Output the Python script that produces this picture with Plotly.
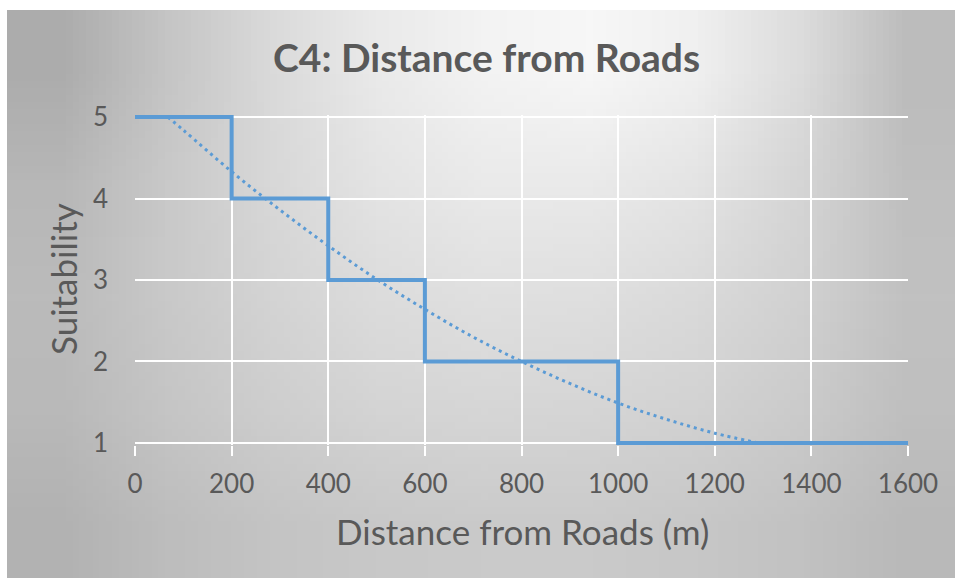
import base64
import struct
import zlib

import plotly.graph_objects as go

# ---------------- data ----------------
breakpoints_m = [0, 200, 400, 600, 1000, 1600]
suitability = [5, 4, 3, 2, 1, 1]

trend_x = [68, 100, 200, 300, 400, 500, 600, 700, 800, 900, 1000, 1100, 1200, 1290]
trend_y = [5.0, 4.84, 4.33, 3.86, 3.42, 3.01, 2.64, 2.30, 2.00, 1.73, 1.49, 1.29, 1.12, 1.0]

x_ticks = [0, 200, 400, 600, 800, 1000, 1200, 1400, 1600]
y_ticks = [1, 2, 3, 4, 5]

title_text = "C4: Distance from Roads"
x_title = "Distance from Roads (m)"
y_title = "Suitability"

# background shading samples (grey levels, rows top -> bottom)
bg_grey = [
    [172, 197, 218, 234, 243, 247, 240, 220, 188],
    [183, 201, 216, 228, 234, 234, 228, 213, 191],
    [187, 201, 212, 220, 224, 223, 218, 209, 193],
    [185, 197, 206, 212, 214, 213, 210, 203, 191],
    [178, 189, 196, 200, 202, 202, 199, 194, 185],
]

# ---------------- layout geometry ----------------
W, H = 955, 578
L, R, T, B = 135, 47, 115, 133
PW = W - L - R
PH = H - T - B


def px(x):
    return (x - L) / PW


def py(y):
    return (H - B - y) / PH


def png_gray(rows):
    h = len(rows)
    w = len(rows[0])
    raw = b"".join(b"\x00" + bytes(r) for r in rows)

    def chunk(t, d):
        c = struct.pack(">I", len(d)) + t + d
        return c + struct.pack(">I", zlib.crc32(t + d) & 0xFFFFFFFF)

    ihdr = struct.pack(">IIBBBBB", w, h, 8, 0, 0, 0, 0)
    return (b"\x89PNG\r\n\x1a\n" + chunk(b"IHDR", ihdr)
            + chunk(b"IDAT", zlib.compress(raw)) + chunk(b"IEND", b""))


bg_src = "data:image/png;base64," + base64.b64encode(png_gray(bg_grey)).decode()

BLUE = "#5B9BD5"
TXT = "#595959"
FONT = "Lato"

fig = go.Figure()

fig.add_trace(go.Scatter(
    x=trend_x, y=trend_y, mode="lines",
    line=dict(color=BLUE, width=3, dash="3px,4px", shape="spline"),
    hoverinfo="skip", showlegend=False,
))
fig.add_trace(go.Scatter(
    x=breakpoints_m, y=suitability, mode="lines",
    line=dict(color=BLUE, width=4, shape="hv"),
    showlegend=False,
))

fig.update_layout(
    width=W, height=H,
    margin=dict(l=L, r=R, t=T, b=B),
    paper_bgcolor="#bcbcbc",
    plot_bgcolor="rgba(0,0,0,0)",
    font=dict(family=FONT, color=TXT),
    showlegend=False,
    images=[dict(
        source=bg_src, xref="paper", yref="paper",
        x=px(7), y=py(10), sizex=(W - 7) / PW, sizey=(H - 10) / PH,
        xanchor="left", yanchor="top", sizing="stretch", layer="below",
    )],
    shapes=[
        dict(type="rect", xref="paper", yref="paper", layer="below",
             x0=px(0), x1=px(7), y0=py(H), y1=py(0),
             fillcolor="white", line=dict(width=0)),
        dict(type="rect", xref="paper", yref="paper", layer="below",
             x0=px(0), x1=px(W), y0=py(10), y1=py(0),
             fillcolor="white", line=dict(width=0)),
    ],
    xaxis=dict(
        range=[0, 1600], tickvals=x_ticks, ticktext=[str(v) for v in x_ticks],
        showgrid=True, gridcolor="white", gridwidth=1.5,
        zeroline=False, showline=False,
        ticks="outside", ticklen=10, tickwidth=1.5, tickcolor="white",
        tickfont=dict(family=FONT, size=26, color=TXT),
        ticklabelstandoff=6,
    ),
    yaxis=dict(
        range=[0.975, 5.025], tickvals=y_ticks, ticktext=[str(v) for v in y_ticks],
        showgrid=True, gridcolor="white", gridwidth=1.5,
        zeroline=False, showline=False, ticks="",
        tickfont=dict(family=FONT, size=26, color=TXT),
        ticklabelstandoff=26,
    ),
    annotations=[
        dict(text=title_text, xref="paper", yref="paper", x=px(486), y=py(57),
             xanchor="center", yanchor="middle", showarrow=False,
             font=dict(family=FONT, size=39, color=TXT, weight="bold")),
        dict(text=x_title, xref="paper", yref="paper", x=px(522), y=py(531),
             xanchor="center", yanchor="middle", showarrow=False,
             font=dict(family=FONT, size=35, color=TXT)),
        dict(text=y_title, xref="paper", yref="paper", x=px(63), y=py(279),
             xanchor="center", yanchor="middle", showarrow=False, textangle=-90,
             font=dict(family=FONT, size=35, color=TXT)),
    ],
)

fig.write_html(
    "out.html",
    config={"displayModeBar": False},
    post_script="document.body.style.margin='0px';document.body.style.overflow='hidden';",
)
